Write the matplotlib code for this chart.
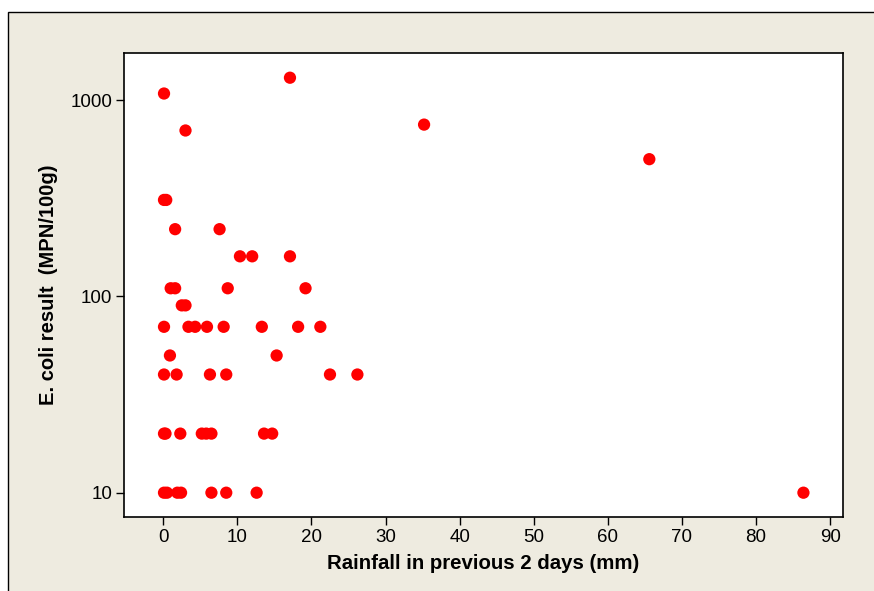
import matplotlib
matplotlib.use("Agg")
import matplotlib.pyplot as plt
from matplotlib.patches import Rectangle
from matplotlib.ticker import NullLocator

# Дождь за 2 дня (мм) и результат E. coli (MPN/100g)
rainfall = [0.1, 17.1, 3.0, 35.2, 65.6,
            0.1, 0.4,
            1.6, 7.6,
            10.35, 12.0, 17.1,
            1.0, 1.6, 8.7, 19.2,
            2.5, 3.0,
            0.1, 3.4, 4.3, 5.9, 8.15, 13.3, 18.2, 21.2,
            0.9, 15.3,
            0.1, 1.8, 6.3, 8.5, 22.5, 26.2,
            0.1, 0.3, 2.3, 5.2, 5.8, 6.5, 13.6, 14.7,
            0.1, 0.5, 1.9, 2.4, 6.5, 8.5, 12.6, 86.4]
ecoli = [1080, 1300, 700, 750, 500,
         310, 310,
         220, 220,
         160, 160, 160,
         110, 110, 110, 110,
         90, 90,
         70, 70, 70, 70, 70, 70, 70, 70,
         50, 50,
         40, 40, 40, 40, 40, 40,
         20, 20, 20, 20, 20, 20, 20, 20,
         10, 10, 10, 10, 10, 10, 10, 10]

x_ticks = [0, 10, 20, 30, 40, 50, 60, 70, 80, 90]
y_ticks = [10, 100, 1000]

W, H = 874, 591
BG = '#eeebe0'

plt.rcParams['font.family'] = ['Liberation Sans', 'DejaVu Sans']

fig = plt.figure(figsize=(W / 100, H / 100), dpi=100, facecolor='white')
# бежевая подложка с рамкой
fig.patches.append(Rectangle((8 / W, -0.1), 1.2, (H - 12) / H + 0.1,
                             transform=fig.transFigure, facecolor=BG,
                             edgecolor='black', linewidth=1.0, zorder=-10))

ax = fig.add_axes([124 / W, 74 / H, (842.7 - 124) / W, (517 - 53.3) / H])
ax.set_facecolor('white')
ax.scatter(rainfall, ecoli, s=78, color='#ff0000', edgecolors='none', zorder=3)

ax.set_yscale('log')
ax.set_xlim(-5.3, 91.7)
ax.set_ylim(7.52, 1731)
ax.set_xticks(x_ticks)
ax.set_yticks(y_ticks)
ax.set_yticklabels([str(v) for v in y_ticks])
ax.yaxis.set_minor_locator(NullLocator())
ax.tick_params(axis='both', direction='out', length=5.5, width=1, pad=3,
               labelsize=13.5, colors='black')

for sp in ax.spines.values():
    sp.set_linewidth(1.2)
    sp.set_color('black')

ax.set_xlabel('Rainfall in previous 2 days (mm)', fontsize=14.7, fontweight='bold', labelpad=6)
ax.set_ylabel('E. coli result  (MPN/100g)', fontsize=14.5, fontweight='bold', labelpad=9)

fig.savefig('out.png', dpi=100, facecolor=fig.get_facecolor())
